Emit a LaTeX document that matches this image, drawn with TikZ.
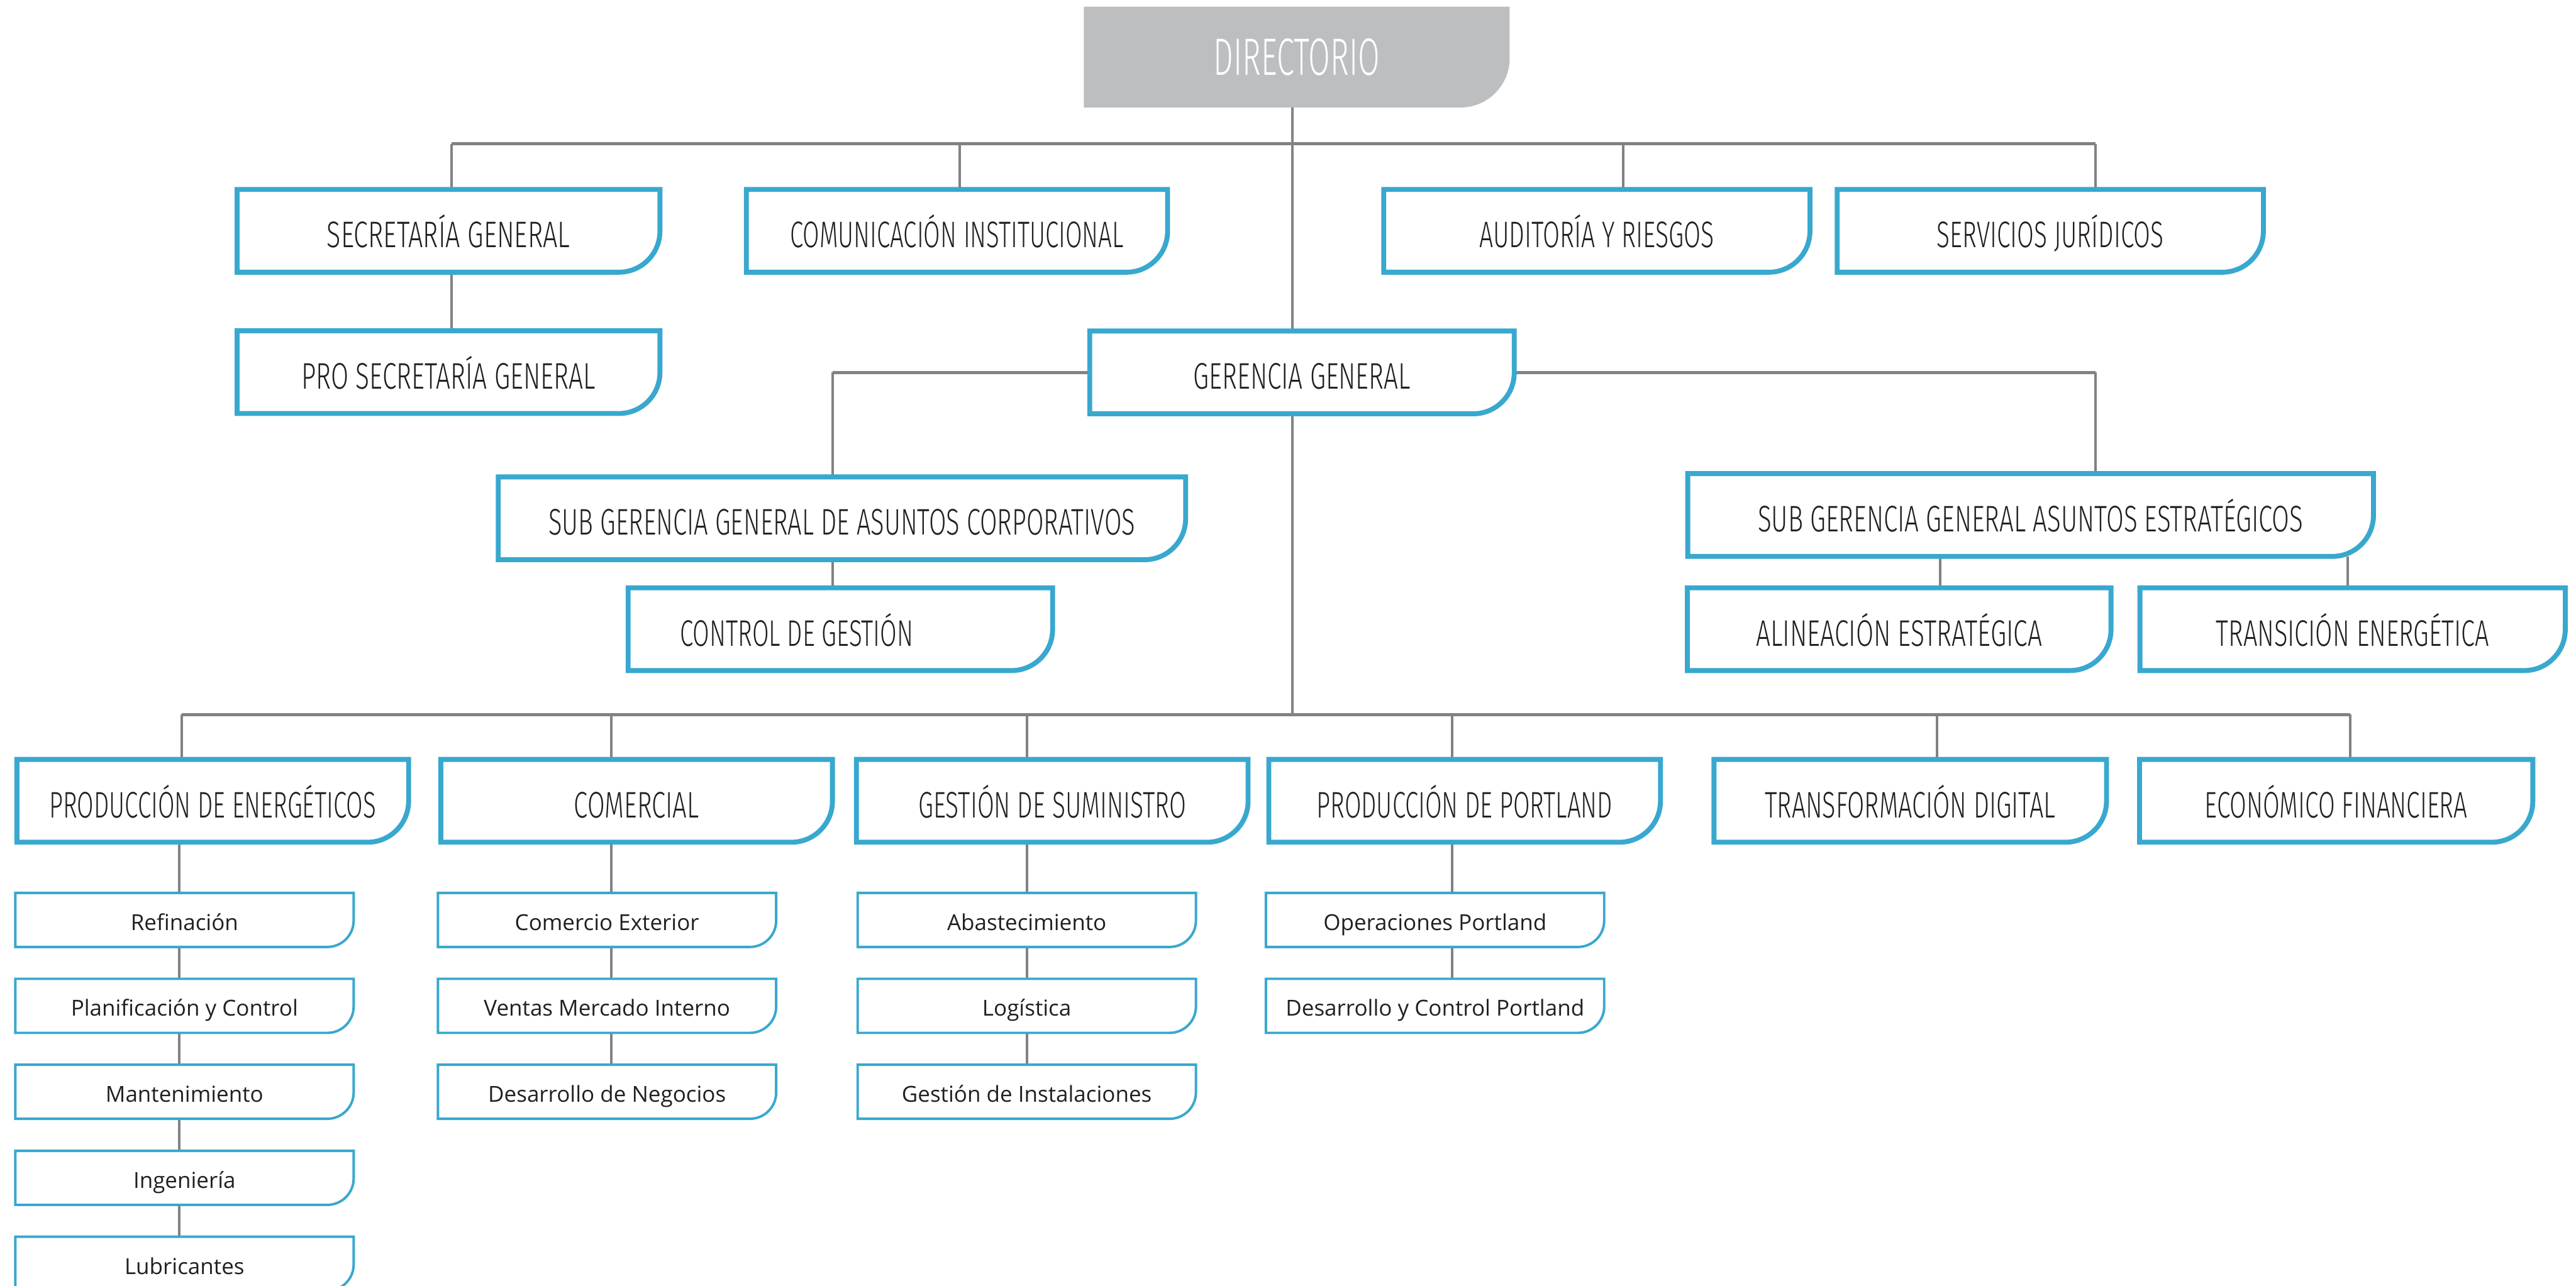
\documentclass[tikz,border=0pt]{standalone}
\usepackage{fontspec}
\usepackage{graphicx}
\newfontfamily\thinf{Fira Sans Light}
\newfontfamily\opensans{Open Sans}
\definecolor{blu}{HTML}{38A8CF}
\definecolor{lgray}{HTML}{808285}
\definecolor{dgray}{HTML}{BCBEC0}
\definecolor{txt}{HTML}{231F20}
\pgfdeclarelayer{bg}
\pgfsetlayers{bg,main}
\newcommand\bt[2]{\resizebox{#1pt}{\height}{#2}}
\newcommand\obox[3][]{%
  \path[#1] (#2.north west) -- (#2.north east) -- ([yshift=#3pt]#2.south east)
    arc[start angle=0,end angle=-90,radius=#3pt] -- (#2.south west) -- cycle;}
\tikzset{
  bigbox/.style={inner sep=0pt, minimum height=50pt, text height=20.5pt, text depth=0pt,
    font=\thinf\fontsize{22.5}{24}\selectfont, text=txt},
  smallbox/.style={inner sep=0pt, minimum height=32.5pt, minimum width=205.5pt,
    text height=12.6pt, text depth=0pt, font=\opensans\fontsize{13.4}{15}\selectfont, text=txt},
  outl/.style={draw=blu, line width=3pt, fill=white},
  outs/.style={draw=blu, line width=1.5pt, fill=white},
  busline/.style={draw=lgray, line width=2pt},
  vl/.style={draw=lgray, line width=1.5pt},
}
\begin{document}
\begin{tikzpicture}[x=1pt,y=-1pt]
\useasboundingbox (0,0) rectangle (1568,782.74);
% nodes
\node[inner sep=0pt, minimum width=258.8pt, minimum height=61pt, text height=22pt, text depth=0pt,
  font=\thinf\fontsize{32}{34}\selectfont, text=white] (dir) at (789.3,34.75) {\bt{101}{DIRECTORIO}};
\node[bigbox, minimum width=257pt] (sec) at (273,140.5) {\bt{148}{SECRETARÍA GENERAL}};
\node[bigbox, minimum width=256pt] (com) at (582.5,140.5) {\bt{203}{COMUNICACIÓN INSTITUCIONAL}};
\node[bigbox, minimum width=259pt] (aud) at (972,140.5) {\bt{143}{AUDITORÍA Y RIESGOS}};
\node[bigbox, minimum width=259pt] (serv) at (1248,140.5) {\bt{138}{SERVICIOS JURÍDICOS}};
\node[bigbox, minimum width=257pt] (pro) at (273,226.5) {\bt{179}{PRO SECRETARÍA GENERAL}};
\node[bigbox, minimum width=258pt] (ger) at (792.5,226.7) {\bt{132}{GERENCIA GENERAL}};
\node[bigbox, minimum width=418pt] (sgc) at (512.5,315.5) {\bt{357}{SUB GERENCIA GENERAL DE ASUNTOS CORPORATIVOS}};
\node[bigbox, minimum width=417pt] (sge) at (1236,313.5) {\bt{332}{SUB GERENCIA GENERAL ASUNTOS ESTRATÉGICOS}};
\node[bigbox, minimum width=258pt] (ctrl) at (511.5,383) {};
\node[bigbox] (ctrlt) at (485,383) {\bt{142}{CONTROL DE GESTIÓN}};
\node[bigbox, minimum width=257.5pt] (ali) at (1156,383) {\bt{174}{ALINEACIÓN ESTRATÉGICA}};
\node[bigbox, minimum width=258.5pt] (tra) at (1432,383) {\bt{166}{TRANSICIÓN ENERGÉTICA}};
\node[bigbox, minimum width=238pt] (pe) at (129.5,487.5) {\bt{199}{PRODUCCIÓN DE ENERGÉTICOS}};
\node[bigbox, minimum width=238pt] (comm) at (387.5,487.5) {\bt{76}{COMERCIAL}};
\node[bigbox, minimum width=238pt] (gs) at (640.5,487.5) {\bt{163}{GESTIÓN DE SUMINISTRO}};
\node[bigbox, minimum width=238pt] (pp) at (891.5,487.5) {\bt{180}{PRODUCCIÓN DE PORTLAND}};
\node[bigbox, minimum width=238.5pt] (tdig) at (1162.75,487.5) {\bt{177}{TRANSFORMACIÓN DIGITAL}};
\node[bigbox, minimum width=239pt] (econ) at (1422,487.5) {\bt{160}{ECONÓMICO FINANCIERA}};
% small boxes
\node[smallbox] (ref)  at (112.3,560) {Refinación};
\node[smallbox] (plan) at (112.3,612.3) {Planificación y Control};
\node[smallbox] (mant) at (112.3,664.6) {Mantenimiento};
\node[smallbox] (ing)  at (112.3,717) {Ingeniería};
\node[smallbox] (lub)  at (112.3,769.3) {Lubricantes};
\node[smallbox] (cext) at (369.5,560) {Comercio Exterior};
\node[smallbox] (vmi)  at (369.5,612.3) {Ventas Mercado Interno};
\node[smallbox] (dneg) at (369.5,664.6) {Desarrollo de Negocios};
\node[smallbox] (abas) at (625,560) {Abastecimiento};
\node[smallbox] (logi) at (625,612.3) {Logística};
\node[smallbox] (gins) at (625,664.6) {Gestión de Instalaciones};
\node[smallbox] (opp)  at (873.5,560) {Operaciones Portland};
\node[smallbox] (dcp)  at (873.5,612.3) {Desarrollo y Control Portland};
\begin{pgfonlayer}{bg}
\fill[white] (0,0) rectangle (1568,782.74);
% top bus
\coordinate (b1l) at (275,87.5);
\coordinate (b1r) at (1275.5,87.5);
\coordinate (t2) at (584,87.5);
\coordinate (t3) at (988,87.5);
\coordinate (m) at (786.5,435);
\draw[busline] (b1l) -- (b1r);
\draw[vl] (b1l) -- (b1l |- sec.north);
\draw[vl] (t2) -- (t2 |- com.north);
\draw[vl] (t3) -- (t3 |- aud.north);
\draw[vl] (b1r) -- (b1r |- serv.north);
\draw[vl] (m |- dir.south) -- (m);
\draw[vl] (b1l |- sec.south) -- (b1l |- pro.north);
% gerencia bus
\coordinate (g1) at (507,226.7);
\coordinate (g2) at (1275.5,226.7);
\draw[busline] (g1) -- (g2);
\draw[vl] (g1) -- (g1 |- sgc.north);
\draw[vl] (g2) -- (g2 |- sge.north);
\draw[vl] (g1 |- sgc.south) -- (g1 |- ctrl.north);
\coordinate (a1) at (1181,340);
\coordinate (a2) at (1429,340);
\draw[vl] (a1 |- sge.south) -- (a1 |- ali.north);
\draw[vl] (a2 |- sge.south) -- (a2 |- tra.north);
% bottom bus
\coordinate (b3l) at (110.5,435);
\coordinate (b3r) at (1430.6,435);
\coordinate (d2) at (372,435);
\coordinate (d3) at (625,435);
\coordinate (d4) at (884,435);
\coordinate (d5) at (1179,435);
\draw[busline] (b3l) -- (b3r);
\draw[vl] (b3l) -- (b3l |- pe.north);
\draw[vl] (d2) -- (d2 |- comm.north);
\draw[vl] (d3) -- (d3 |- gs.north);
\draw[vl] (d4) -- (d4 |- pp.north);
\draw[vl] (d5) -- (d5 |- tdig.north);
\draw[vl] (b3r) -- (b3r |- econ.north);
% columns
\coordinate (c1) at (109,0);
\draw[vl] (c1 |- pe.south) -- (c1 |- ref.north);
\draw[vl] (c1 |- ref.south) -- (c1 |- plan.north);
\draw[vl] (c1 |- plan.south) -- (c1 |- mant.north);
\draw[vl] (c1 |- mant.south) -- (c1 |- ing.north);
\draw[vl] (c1 |- ing.south) -- (c1 |- lub.north);
\draw[vl] (d2 |- comm.south) -- (d2 |- cext.north);
\draw[vl] (d2 |- cext.south) -- (d2 |- vmi.north);
\draw[vl] (d2 |- vmi.south) -- (d2 |- dneg.north);
\draw[vl] (d3 |- gs.south) -- (d3 |- abas.north);
\draw[vl] (d3 |- abas.south) -- (d3 |- logi.north);
\draw[vl] (d3 |- logi.south) -- (d3 |- gins.north);
\draw[vl] (d4 |- pp.south) -- (d4 |- opp.north);
\draw[vl] (d4 |- opp.south) -- (d4 |- dcp.north);
% outlines
\obox[fill=dgray]{dir}{30}
\foreach \n in {sec,com,aud,serv,pro,ger,sgc,sge,ctrl,ali,tra,pe,comm,gs,pp,tdig,econ}{\obox[outl]{\n}{25}}
\foreach \n in {ref,plan,mant,ing,lub,cext,vmi,dneg,abas,logi,gins,opp,dcp}{\obox[outs]{\n}{16}}
\end{pgfonlayer}
\end{tikzpicture}
\end{document}
